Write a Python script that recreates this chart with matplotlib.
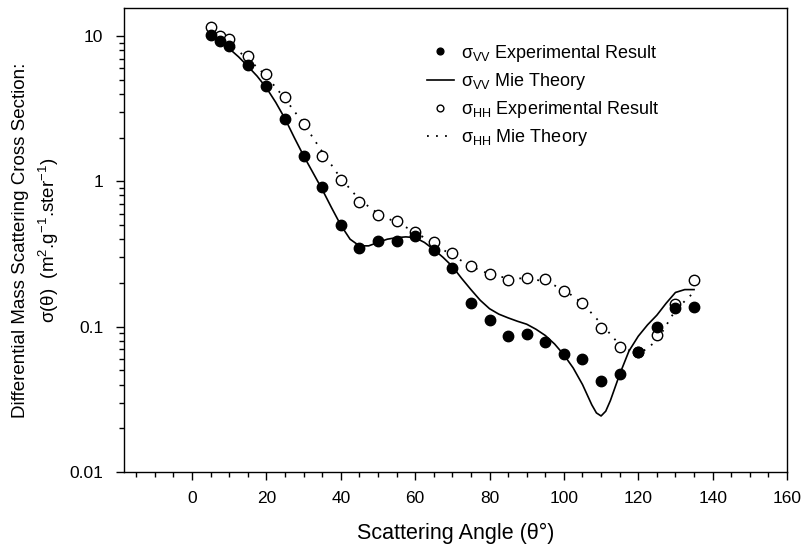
import numpy as np
import matplotlib
matplotlib.use("Agg")
import matplotlib.pyplot as plt
from matplotlib.ticker import MultipleLocator, LogLocator, NullFormatter, FixedLocator

plt.rcParams['font.family'] = ['Liberation Sans', 'DejaVu Sans']
plt.rcParams['mathtext.fontset'] = 'custom'
plt.rcParams['mathtext.rm'] = 'Liberation Sans'
plt.rcParams['mathtext.it'] = 'Liberation Sans:italic'

# experimental points
ang_exp = [5, 7.5, 10, 15, 20, 25, 30, 35, 40, 45, 50, 55, 60, 65, 70, 75, 80, 85,
           90, 95, 100, 105, 110, 115, 120, 125, 130, 135]
vv_exp = [10.2, 9.2, 8.5, 6.3, 4.5, 2.7, 1.5, 0.91, 0.5, 0.35, 0.39, 0.39, 0.42, 0.336,
          0.252, 0.146, 0.112, 0.086, 0.089, 0.079, 0.065, 0.060, 0.042, 0.047, 0.067,
          0.10, 0.134, 0.136]
hh_exp = [11.5, 10.0, 9.6, 7.3, 5.5, 3.8, 2.5, 1.5, 1.03, 0.72, 0.59, 0.53, 0.45, 0.38,
          0.32, 0.26, 0.23, 0.21, 0.217, 0.214, 0.177, 0.145, 0.098, 0.072, 0.067,
          0.088, 0.144, 0.21]

# Mie theory VV (solid)
ang_vv = [5, 7.5, 10, 12.5, 15, 17.5, 20, 22.5, 25, 27.5, 30, 32.5, 35, 37.5, 40, 42.5,
          45, 47.5, 50, 52.5, 55, 57.5, 60, 62.5, 65, 67.5, 70, 72.5, 75, 77.5, 80, 82.5,
          85, 87.5, 90, 92.5, 95, 97.5, 100, 102.5, 105, 107.5, 108.75, 110, 111.25,
          112.5, 115, 117.5, 120, 122.5, 125, 127.5, 130, 132.5, 135]
vv_mie = [10.0, 9.0, 8.2, 7.2, 6.2, 5.3, 4.4, 3.5, 2.7, 2.0, 1.5, 1.15, 0.88, 0.66, 0.50,
          0.40, 0.36, 0.36, 0.38, 0.40, 0.41, 0.415, 0.41, 0.38, 0.34, 0.30, 0.26, 0.215,
          0.18, 0.152, 0.133, 0.122, 0.115, 0.109, 0.104, 0.096, 0.087, 0.076, 0.064,
          0.052, 0.040, 0.029, 0.0255, 0.0243, 0.0262, 0.031, 0.047, 0.068, 0.086,
          0.103, 0.120, 0.145, 0.172, 0.180, 0.180]

# Mie theory HH (dotted)
ang_hh = [5, 10, 15, 20, 25, 30, 35, 40, 45, 50, 55, 60, 65, 70, 75, 80, 85, 90, 95,
          100, 105, 110, 115, 120, 125, 130, 135]
hh_mie = [10.5, 8.8, 7.0, 5.3, 3.7, 2.5, 1.6, 1.05, 0.75, 0.60, 0.52, 0.45, 0.37, 0.31,
          0.26, 0.23, 0.215, 0.215, 0.205, 0.18, 0.145, 0.105, 0.075, 0.064, 0.08, 0.13,
          0.173]

fig = plt.figure(figsize=(8.03, 5.53), dpi=100)
ax = fig.add_axes([124/803, 81/553, 663/803, 464/553])

ax.plot(ang_exp, vv_exp, 'o', color='black', ms=7.5, label=r'σ$_{\rm VV}$ Experimental Result', zorder=4)
ax.plot(ang_vv, vv_mie, '-', color='black', lw=1.2, label=r'σ$_{\rm VV}$ Mie Theory')
ax.plot(ang_exp, hh_exp, 'o', mfc='white', mec='black', mew=1.0, ms=7.5,
        label=r'σ$_{\rm HH}$ Experimental Result', zorder=3)
ax.plot(ang_hh, hh_mie, color='black', lw=1.3, ls=(0, (1, 4)), label=r'σ$_{\rm HH}$ Mie Theory')

ax.set_yscale('log')
ax.set_ylim(0.01, 15.6)
ax.set_xlim(-18.3, 160)
ax.xaxis.set_major_locator(FixedLocator(np.arange(0, 161, 20)))
ax.xaxis.set_minor_locator(MultipleLocator(5))
ax.yaxis.set_minor_locator(LogLocator(base=10, subs=np.arange(2, 10), numticks=10))
ax.yaxis.set_minor_formatter(NullFormatter())
ax.set_yticks([0.01, 0.1, 1, 10])
ax.set_yticklabels(['0.01', '0.1', '1', '10'])

ax.tick_params(which='major', direction='out', length=6, width=1, labelsize=12.5)
ax.tick_params(which='minor', direction='out', length=3.5, width=1)
ax.tick_params(axis='x', which='major', pad=8)
ax.tick_params(axis='y', which='major', pad=9)
ax.tick_params(top=False, right=False)
for s in ax.spines.values():
    s.set_linewidth(1.0)

ax.set_xlabel('Scattering Angle (θ°)', fontsize=15.5, labelpad=12)
ax.set_ylabel('Differential Mass Scattering Cross Section:\n'
              r'σ(θ)  (m$^2$.g$^{-1}$.ster$^{-1}$)', fontsize=13.5, labelpad=6, linespacing=1.45)

ax.legend(loc='upper left', bbox_to_anchor=(0.433, 0.96), frameon=False, fontsize=13,
          handlelength=1.45, handletextpad=0.4, labelspacing=0.4, numpoints=1,
          markerscale=0.65)

fig.savefig('out.png', dpi=100)
